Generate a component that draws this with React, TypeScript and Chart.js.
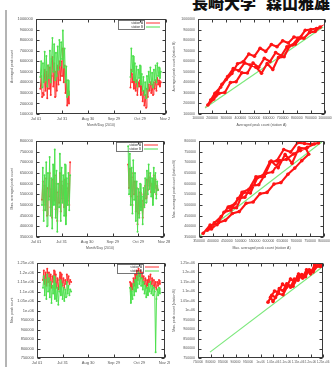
import { useEffect, useRef } from "react";
import { Chart, registerables } from "chart.js";

Chart.register(...registerables);

const RED = "#ff3030";
const GREEN = "#4ee04e";
const FONT = '"Liberation Sans", Arial, sans-serif';

// ---- shared tick labels ----
const dateTickValues = [0, 30, 60, 90, 120, 150];
const dateTickLabels = ["Jul 01", "Jul 31", "Aug 30", "Sep 29", "Oct 29", "Nov 28"];
const seriesNames = ["station A", "station B"];

// ---- row 1 : time series (values) ----
const row1StartA = 5;
const row1StartB = 109;
const row1GreenA = [450000, 600000, 350000, 580000, 400000, 690000, 420000, 650000, 360000, 560000, 440000, 700000, 400000, 620000, 820000, 500000, 760000, 420000, 680000, 460000, 740000, 520000, 800000, 560000, 780000, 620000, 890000, 540000, 720000, 400000, 550000, 260000, 420000, 280000];
const row1RedA = [340000, 460000, 260000, 300000, 280000, 520000, 320000, 500000, 250000, 560000, 340000, 540000, 280000, 460000, 640000, 360000, 580000, 260000, 500000, 320000, 560000, 380000, 600000, 420000, 600000, 460000, 720000, 400000, 560000, 300000, 420000, 180000, 320000, 200000];
const row1GreenB = [450000, 720000, 500000, 650000, 420000, 580000, 400000, 550000, 360000, 520000, 440000, 560000, 380000, 480000, 320000, 450000, 280000, 400000, 250000, 460000, 340000, 500000, 400000, 540000, 380000, 490000, 350000, 520000, 420000, 560000, 400000, 580000, 460000, 540000, 440000, 500000];
const row1RedB = [350000, 520000, 400000, 480000, 340000, 440000, 320000, 420000, 280000, 400000, 360000, 420000, 280000, 360000, 220000, 320000, 180000, 280000, 160000, 340000, 260000, 380000, 320000, 400000, 300000, 380000, 280000, 400000, 340000, 420000, 320000, 440000, 380000, 420000, 360000, 400000];

// ---- row 2 : time series ----
const row2StartA = 7;
const row2StartB = 108;
const row2GreenA = [500000, 675000, 425000, 640000, 475000, 700000, 400000, 650000, 525000, 725000, 450000, 625000, 390000, 690000, 500000, 760000, 440000, 660000, 375000, 600000, 490000, 740000, 425000, 675000, 510000, 640000, 450000, 690000, 410000, 625000, 500000, 650000, 475000, 640000];
const row2RedA = [525000, 610000, 475000, 590000, 500000, 625000, 450000, 580000, 540000, 650000, 490000, 575000, 440000, 620000, 520000, 640000, 480000, 600000, 425000, 560000, 510000, 650000, 470000, 610000, 530000, 590000, 490000, 620000, 450000, 580000, 520000, 600000, 500000, 700000];
const row2GreenB = [775000, 550000, 740000, 500000, 675000, 460000, 710000, 525000, 650000, 425000, 610000, 375000, 575000, 440000, 600000, 475000, 540000, 410000, 580000, 490000, 625000, 510000, 660000, 550000, 690000, 575000, 650000, 540000, 625000, 500000, 675000, 560000, 650000, 530000, 610000, 570000];
const row2RedB = [690000, 580000, 670000, 540000, 630000, 500000, 650000, 550000, 610000, 470000, 580000, 410000, 540000, 460000, 560000, 490000, 520000, 440000, 550000, 500000, 590000, 530000, 620000, 570000, 650000, 590000, 630000, 560000, 600000, 530000, 640000, 580000, 620000, 550000, 590000, 570000];

// ---- row 3 : time series ----
const row3StartA = 7;
const row3StartB = 109;
const row3GreenA = [1120000, 1180000, 1080000, 1160000, 1060000, 1190000, 1100000, 1170000, 1070000, 1150000, 1040000, 1130000, 1090000, 1180000, 1060000, 1140000, 1050000, 1120000, 1030000, 1100000, 1160000, 1080000, 1140000, 1060000, 1120000, 1050000, 1110000, 1070000, 1150000, 1090000, 1130000, 1080000, 1110000, 1100000];
const row3RedA = [1160000, 1210000, 1140000, 1200000, 1130000, 1220000, 1150000, 1200000, 1130000, 1190000, 1120000, 1180000, 1150000, 1210000, 1130000, 1190000, 1120000, 1170000, 1110000, 1160000, 1200000, 1140000, 1190000, 1130000, 1170000, 1120000, 1160000, 1140000, 1190000, 1150000, 1180000, 1140000, 1160000, 1150000];
const row3GreenB = [1120000, 1040000, 1100000, 1060000, 1140000, 1080000, 1160000, 1100000, 1180000, 1120000, 1200000, 1140000, 1190000, 1130000, 1170000, 1110000, 1150000, 1090000, 1130000, 1070000, 1120000, 1080000, 1140000, 1100000, 1150000, 1090000, 1130000, 1080000, 1120000, 1100000, 780000, 1060000, 1110000, 1080000, 1120000, 1090000];
const row3RedB = [1150000, 1100000, 1140000, 1110000, 1170000, 1130000, 1190000, 1150000, 1210000, 1160000, 1220000, 1180000, 1210000, 1170000, 1200000, 1150000, 1180000, 1140000, 1170000, 1120000, 1160000, 1130000, 1180000, 1150000, 1190000, 1140000, 1170000, 1130000, 1160000, 1120000, 1150000, 1110000, 1150000, 1130000, 1160000, 1140000];

// ---- scatter panels (values in thousands) ----
const scatter1X = [170, 210, 250, 290, 330, 370, 410, 450, 490, 530, 570, 610, 650, 690, 730, 770, 810, 850, 890, 930, 965,
  940, 900, 860, 820, 780, 740, 700, 660, 620, 580, 540, 500, 460, 420, 380, 340, 300, 260, 220, 190,
  230, 270, 310, 350, 390, 430, 470, 510, 550, 590, 630, 670, 710, 750, 790, 830];
const scatter1Y = [185, 240, 296, 304, 398, 406, 490, 489, 582, 543, 627, 597, 682, 652, 736, 754, 819, 817, 873, 881, 923,
  909, 901, 893, 818, 829, 773, 794, 738, 758, 693, 723, 648, 668, 594, 576, 483, 427, 353, 297, 232,
  287, 381, 455, 530, 510, 584, 564, 544, 486, 579, 521, 634, 642, 745, 762, 828];
const fit1X = [150, 987];
const fit1Y = [157, 924];

const scatter2X = [365, 390, 415, 440, 465, 490, 515, 540, 565, 590, 615, 640, 665, 690, 715, 740, 765,
  780, 755, 730, 705, 680, 655, 630, 605, 580, 555, 530, 505, 480, 455, 430, 405, 380,
  395, 420, 445, 470, 495, 520, 545, 570, 595, 620, 645, 670, 695, 720, 745,
  735, 710, 685, 660, 635, 610, 585, 560, 535, 510, 485, 460];
const scatter2Y = [367, 406, 408, 466, 476, 530, 536, 589, 595, 648, 655, 708, 714, 739, 755, 770, 786,
  791, 785, 788, 792, 748, 760, 707, 701, 638, 632, 574, 559, 506, 490, 446, 416, 382,
  388, 417, 428, 460, 469, 508, 514, 553, 559, 598, 605, 644, 673, 708, 738,
  765, 768, 696, 737, 675, 706, 634, 628, 556, 559, 487, 490];
const fit2X = [353, 792];
const fit2Y = [355, 795];

const scatter3X = [1030, 1045, 1060, 1075, 1090, 1105, 1120, 1135, 1150, 1165, 1180, 1195, 1210, 1225, 1240,
  1232, 1216, 1200, 1184, 1168, 1152, 1136, 1120, 1104, 1088, 1072, 1056, 1040,
  1050, 1070, 1090, 1110, 1130, 1150, 1170, 1190, 1210, 1230, 1246];
const scatter3Y = [1044, 1080, 1069, 1115, 1104, 1140, 1123, 1165, 1159, 1189, 1178, 1214, 1208, 1233, 1232,
  1235, 1240, 1193, 1214, 1171, 1192, 1150, 1166, 1123, 1139, 1097, 1102, 1070,
  1048, 1089, 1083, 1134, 1128, 1180, 1173, 1209, 1203, 1238, 1244];
const fit3X = [798, 1242];
const fit3Y = [781, 1224];

// ---- helpers ----
function timeSeries(startA: number, valsA: number[], startB: number, valsB: number[]) {
  const pts: { x: number; y: number | null }[] = valsA.map((y, i) => ({ x: startA + i, y }));
  pts.push({ x: (startA + valsA.length + startB) / 2, y: null });
  valsB.forEach((y, i) => pts.push({ x: startB + i, y }));
  return pts;
}
// scatter arrays are stored in thousands
function pairsK(xs: number[], ys: number[]) {
  return xs.map((x, i) => ({ x: x * 1000, y: ys[i] * 1000 }));
}
const plainFmt = (v: any) => String(v);
const expFmt = (v: any) => (v >= 1000000 ? `${Math.round((v / 1000000) * 1000) / 1000}e+06` : String(v));
const dateFmt = (v: any) => {
  const i = dateTickValues.indexOf(v);
  return i >= 0 ? dateTickLabels[i] : "";
};

const framePlugin = {
  id: "gpFrame",
  afterDraw(chart: any) {
    const { ctx, chartArea: a, scales } = chart;
    ctx.save();
    ctx.strokeStyle = "#3a3a3a";
    ctx.lineWidth = 1;
    const l = Math.round(a.left) + 0.5;
    const r = Math.round(a.right) - 0.5;
    const t = Math.round(a.top) + 0.5;
    const b = Math.round(a.bottom) - 0.5;
    ctx.strokeRect(l, t, r - l, b - t);
    ctx.beginPath();
    const tl = 3;
    scales.x.ticks.forEach((tk: any) => {
      const px = Math.round(scales.x.getPixelForValue(tk.value)) + 0.5;
      ctx.moveTo(px, b);
      ctx.lineTo(px, b - tl);
      ctx.moveTo(px, t);
      ctx.lineTo(px, t + tl);
    });
    scales.y.ticks.forEach((tk: any) => {
      const py = Math.round(scales.y.getPixelForValue(tk.value)) + 0.5;
      ctx.moveTo(l, py);
      ctx.lineTo(l + tl, py);
      ctx.moveTo(r, py);
      ctx.lineTo(r - tl, py);
    });
    ctx.stroke();
    ctx.restore();
  },
};

function keyPlugin(entries: { label: string; color: string }[]) {
  return {
    id: "gpKey",
    afterDraw(chart: any) {
      const { ctx, chartArea: a } = chart;
      ctx.save();
      const bx = Math.round(a.right) - 47.5;
      const by = Math.round(a.top) + 1.5;
      ctx.strokeStyle = "#555";
      ctx.lineWidth = 0.8;
      ctx.strokeRect(bx, by, 26, 9);
      ctx.font = `3px ${FONT}`;
      ctx.textAlign = "right";
      ctx.textBaseline = "middle";
      entries.forEach((e, i) => {
        const y = by + 2.5 + i * 4;
        ctx.fillStyle = "#333";
        ctx.fillText(e.label, a.right - 23, y);
        ctx.strokeStyle = e.color;
        ctx.lineWidth = 1;
        ctx.beginPath();
        ctx.moveTo(a.right - 20, y);
        ctx.lineTo(a.right - 6, y);
        ctx.stroke();
      });
      ctx.restore();
    },
  };
}

type Box = { l: number; t: number; r: number; b: number };
type Cv = { L: number; T: number; W: number; H: number };
type AxisSpec = { min: number; max: number; step: number; fmt: (v: any) => string; size: number };

function buildConfig(cv: Cv, box: Box, datasets: any[], x: AxisSpec, y: AxisSpec, xTitle: string | null, yTitle: string, key: boolean) {
  const yWidth = box.l - cv.L;
  const xHeight = cv.T + cv.H - box.b;
  const titleFont = { family: FONT, size: 3.5 };
  return {
    type: "line" as const,
    data: { datasets },
    options: {
      animation: false as const,
      responsive: false,
      devicePixelRatio: 1,
      layout: { padding: { top: box.t - cv.T, right: cv.L + cv.W - box.r, left: 0, bottom: 0 } },
      plugins: { legend: { display: false }, tooltip: { enabled: false } },
      scales: {
        x: {
          type: "linear" as const,
          min: x.min,
          max: x.max,
          grid: { display: false, drawTicks: false },
          border: { display: false },
          ticks: {
            stepSize: x.step,
            autoSkip: false,
            maxRotation: 0,
            minRotation: 0,
            padding: 2,
            color: "#555",
            font: { family: FONT, size: x.size },
            callback: x.fmt,
          },
          title: {
            display: !!xTitle,
            text: xTitle || "",
            color: "#555",
            font: titleFont,
            padding: { top: 0, bottom: Math.max(0, xHeight - 11 - 2.1) },
          },
          afterFit: (s: any) => {
            s.height = xHeight;
            s.paddingLeft = 0;
            s.paddingRight = 0;
          },
        },
        y: {
          type: "linear" as const,
          min: y.min,
          max: y.max,
          grid: { display: false, drawTicks: false },
          border: { display: false },
          ticks: {
            stepSize: y.step,
            autoSkip: false,
            padding: 3,
            color: "#555",
            font: { family: FONT, size: y.size },
            callback: y.fmt,
          },
          title: {
            display: true,
            text: yTitle,
            color: "#555",
            font: titleFont,
            padding: { top: 2, bottom: 0 },
          },
          afterFit: (s: any) => {
            s.width = yWidth;
            s.paddingTop = 0;
            s.paddingBottom = 0;
          },
        },
      },
    },
    plugins: key
      ? [framePlugin, keyPlugin([{ label: seriesNames[0], color: RED }, { label: seriesNames[1], color: GREEN }])]
      : [framePlugin],
  };
}

function tsDatasets(red: any[], green: any[]) {
  const common = { borderWidth: 1, pointRadius: 1, pointBorderWidth: 0, tension: 0, spanGaps: false };
  return [
    { ...common, label: seriesNames[1], data: green, borderColor: GREEN, backgroundColor: GREEN, pointBackgroundColor: GREEN },
    { ...common, label: seriesNames[0], data: red, borderColor: RED, backgroundColor: RED, pointBackgroundColor: RED },
  ];
}
function scDatasets(red: any[], fit: any[]) {
  return [
    { label: "data", data: red, borderColor: "#ff1414", backgroundColor: "#ff1414", pointBackgroundColor: "#ff1414", borderWidth: 2.1, pointRadius: 1.8, pointBorderWidth: 0, tension: 0 },
    { label: "fit", data: fit, borderColor: "#7ce87c", borderWidth: 1.2, pointRadius: 0, tension: 0 },
  ];
}

const dateAxis = (size: number): AxisSpec => ({ min: 0, max: 150, step: 30, fmt: dateFmt, size });

function Panel({ cv, build }: { cv: Cv; build: () => any }) {
  const ref = useRef<HTMLCanvasElement>(null);
  useEffect(() => {
    const chart = new Chart(ref.current as HTMLCanvasElement, build());
    return () => chart.destroy();
  }, []);
  return (
    <canvas
      ref={ref}
      width={cv.W}
      height={cv.H}
      style={{ position: "absolute", left: cv.L, top: cv.T, width: cv.W, height: cv.H }}
    />
  );
}

const cv1L: Cv = { L: 8, T: 13, W: 162, H: 119 };
const cv1R: Cv = { L: 170, T: 13, W: 162, H: 119 };
const cv2L: Cv = { L: 8, T: 135, W: 162, H: 120 };
const cv2R: Cv = { L: 170, T: 135, W: 162, H: 120 };
const cv3L: Cv = { L: 8, T: 257, W: 162, H: 110 };
const cv3R: Cv = { L: 170, T: 257, W: 162, H: 110 };

export default function App() {
  return (
    <div style={{ position: "absolute", left: 0, top: 0, width: 332, height: 367, overflow: "hidden", background: "#fff", filter: "blur(0.6px)" }}>
      <div
        style={{
          position: "absolute",
          left: 192,
          top: -6,
          fontFamily: '"Noto Sans CJK JP", sans-serif',
          fontWeight: 900,
          fontSize: 16,
          lineHeight: "16px",
          color: "#111",
          whiteSpace: "nowrap",
        }}
      >
        長崎大学<span style={{ marginLeft: 10 }}>森山雅雄</span>
      </div>
      <div style={{ position: "absolute", left: 5, top: 10, width: 2, height: 357, background: "#b4b4b4" }} />

      <Panel
        cv={cv1L}
        build={() =>
          buildConfig(cv1L, { l: 36, t: 19, r: 166, b: 114 },
            tsDatasets(timeSeries(row1StartA, row1RedA, row1StartB, row1RedB), timeSeries(row1StartA, row1GreenA, row1StartB, row1GreenB)),
            dateAxis(4), { min: 100000, max: 1000000, step: 100000, fmt: plainFmt, size: 4 },
            "Month/Day (2010)", "Averaged peak count", true)
        }
      />
      <Panel
        cv={cv1R}
        build={() =>
          buildConfig(cv1R, { l: 198, t: 19, r: 325, b: 114 },
            scDatasets(pairsK(scatter1X, scatter1Y), pairsK(fit1X, fit1Y)),
            { min: 100000, max: 1000000, step: 100000, fmt: plainFmt, size: 3.5 },
            { min: 100000, max: 1000000, step: 100000, fmt: plainFmt, size: 3.5 },
            "Averaged peak count (station A)", "Averaged peak count (station B)", false)
        }
      />
      <Panel
        cv={cv2L}
        build={() =>
          buildConfig(cv2L, { l: 36, t: 141, r: 164, b: 237 },
            tsDatasets(timeSeries(row2StartA, row2RedA, row2StartB, row2RedB), timeSeries(row2StartA, row2GreenA, row2StartB, row2GreenB)),
            dateAxis(4), { min: 350000, max: 800000, step: 50000, fmt: plainFmt, size: 4 },
            "Month/Day (2010)", "Max. averaged peak count", true)
        }
      />
      <Panel
        cv={cv2R}
        build={() =>
          buildConfig(cv2R, { l: 199, t: 141, r: 324, b: 237 },
            scDatasets(pairsK(scatter2X, scatter2Y), pairsK(fit2X, fit2Y)),
            { min: 350000, max: 800000, step: 50000, fmt: plainFmt, size: 3.5 },
            { min: 350000, max: 800000, step: 50000, fmt: plainFmt, size: 3.5 },
            "Max. averaged peak count (station A)", "Max. averaged peak count (station B)", false)
        }
      />
      <Panel
        cv={cv3L}
        build={() =>
          buildConfig(cv3L, { l: 37, t: 263, r: 165, b: 358 },
            tsDatasets(timeSeries(row3StartA, row3RedA, row3StartB, row3RedB), timeSeries(row3StartA, row3GreenA, row3StartB, row3GreenB)),
            dateAxis(4), { min: 750000, max: 1250000, step: 50000, fmt: expFmt, size: 4 },
            null, "Max. peak count", true)
        }
      />
      <Panel
        cv={cv3R}
        build={() =>
          buildConfig(cv3R, { l: 198, t: 263, r: 323, b: 358 },
            scDatasets(pairsK(scatter3X, scatter3Y), pairsK(fit3X, fit3Y)),
            { min: 750000, max: 1250000, step: 50000, fmt: expFmt, size: 3 },
            { min: 750000, max: 1250000, step: 50000, fmt: expFmt, size: 3.5 },
            null, "Max. peak count (station B)", false)
        }
      />
    </div>
  );
}
